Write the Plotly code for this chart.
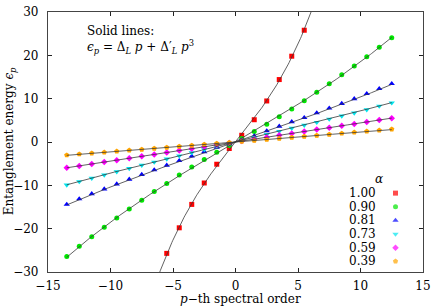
import numpy as np
import plotly.graph_objects as go

# ---------------- data ----------------
p_order = [-13.5, -12.5, -11.5, -10.5, -9.5, -8.5, -7.5, -6.5, -5.5, -4.5, -3.5,
           -2.5, -1.5, -0.5, 0.5, 1.5, 2.5, 3.5, 4.5, 5.5, 6.5, 7.5, 8.5, 9.5,
           10.5, 11.5, 12.5]
p_order_a100 = [-5.5, -4.5, -3.5, -2.5, -1.5, -0.5, 0.5, 1.5, 2.5, 3.5, 4.5, 5.5]

alpha_labels = ["1.00", "0.90", "0.81", "0.73", "0.59", "0.39"]

eps_a100 = [-25.7, -19.8, -14.4, -9.46, -5.13, -1.50, 1.55, 5.14, 9.47, 14.41, 19.8, 25.79]
eps_a090 = [-26.40, -24.05, -21.85, -19.65, -17.55, -15.45, -13.45, -11.45, -9.55,
            -7.60, -5.78, -4.05, -2.38, -0.80, 0.82, 2.42, 4.10, 5.80, 7.62, 9.53,
            11.48, 13.46, 15.52, 17.56, 19.66, 21.88, 24.07]
eps_a081 = [-14.40, -13.15, -11.95, -10.85, -9.72, -8.62, -7.50, -6.46, -5.38, -4.32,
            -3.28, -2.25, -1.22, -0.42, 0.42, 1.40, 2.55, 3.62, 4.66, 5.62, 6.71,
            7.80, 8.87, 9.98, 11.15, 12.30, 13.45]
eps_a073 = [-9.90, -9.12, -8.36, -7.60, -6.85, -6.10, -5.36, -4.63, -3.90, -3.18,
            -2.46, -1.75, -1.04, -0.35, 0.35, 1.04, 1.75, 2.46, 3.18, 3.88, 4.55,
            5.28, 6.02, 6.72, 7.47, 8.30, 9.04]
eps_a059 = [-5.95, -5.52, -5.08, -4.64, -4.19, -3.75, -3.31, -2.87, -2.42, -1.98,
            -1.54, -1.10, -0.66, -0.22, 0.22, 0.66, 1.10, 1.54, 1.98, 2.42, 2.86,
            3.30, 3.74, 4.18, 4.62, 5.06, 5.50]
eps_a039 = [-3.03, -2.80, -2.58, -2.37, -2.15, -1.93, -1.71, -1.48, -1.25, -1.02,
            -0.79, -0.56, -0.34, -0.11, 0.11, 0.35, 0.58, 0.81, 1.05, 1.28, 1.52,
            1.75, 1.99, 2.23, 2.47, 2.71, 2.95]

x_ticks = [-15, -10, -5, 0, 5, 10, 15]
y_ticks = [-30, -20, -10, 0, 10, 20, 30]

# ---------------- styles ----------------
colors = ["#ff0000", "#00e600", "#0000ff", "#00e5ee", "#ff00ff", "#ffa500"]
symbols = ["square", "circle", "triangle-up", "triangle-down", "diamond", "pentagon"]
msizes = [5, 5, 5.5, 5.5, 5, 5.5]

series = [
    (p_order_a100, eps_a100),
    (p_order, eps_a090),
    (p_order, eps_a081),
    (p_order, eps_a073),
    (p_order, eps_a059),
    (p_order, eps_a039),
]

FONT = "DejaVu Serif"


def fit_odd_cubic(p, e):
    """least-squares fit of e = d*p + d3*p^3 (the chart's solid lines)"""
    p = np.asarray(p, float)
    e = np.asarray(e, float)
    A = np.column_stack([p, p ** 3])
    coef, *_ = np.linalg.lstsq(A, e, rcond=None)
    return coef


fig = go.Figure()

# markers first
for (p, e), lab, c, s, ms in zip(series, alpha_labels, colors, symbols, msizes):
    fig.add_trace(go.Scatter(x=p, y=e, mode="markers", name=lab,
                             marker=dict(color=c, symbol=s, size=ms, line=dict(width=0)),
                             showlegend=False))

# fitted solid lines on top
p_grid = np.linspace(min(p_order), max(p_order), 400)
for (p, e) in series:
    d1, d3 = fit_odd_cubic(p, e)
    fig.add_trace(go.Scatter(x=p_grid, y=d1 * p_grid + d3 * p_grid ** 3, mode="lines",
                             line=dict(color="#3a3a3a", width=0.8),
                             showlegend=False, hoverinfo="skip"))

# ---------------- custom legend (text left, symbol right) ----------------
L, R, T, B = 48, 6, 5, 35
W, H = 436, 307
pw, ph = W - L - R, H - T - B


def px_x(x):
    return (x - L) / pw


def px_y(y):
    return 1 - (y - T) / ph


row_y = [px_y(191 + 14 * i) for i in range(len(alpha_labels))]
fig.add_trace(go.Scatter(x=[px_x(402)] * len(alpha_labels), y=row_y, mode="markers",
                         marker=dict(color=colors, symbol=symbols, size=msizes, line=dict(width=0)),
                         xaxis="x2", yaxis="y2", showlegend=False, hoverinfo="skip"))

annotations = []
for lab, yy in zip(alpha_labels, row_y):
    annotations.append(dict(x=px_x(384), y=yy, xref="paper", yref="paper", text=lab,
                            showarrow=False, xanchor="right", yanchor="middle",
                            font=dict(family=FONT, size=12)))
annotations.append(dict(x=px_x(385), y=px_y(177), xref="paper", yref="paper", text="<i>α</i>",
                        showarrow=False, xanchor="center", yanchor="middle",
                        font=dict(family=FONT, size=12)))
# formula box
annotations.append(dict(x=px_x(86), y=px_y(25), xref="paper", yref="paper", text="Solid lines:",
                        showarrow=False, xanchor="left", yanchor="middle",
                        font=dict(family=FONT, size=12)))
annotations.append(dict(x=px_x(86), y=px_y(41), xref="paper", yref="paper",
                        text="<i>ϵ</i><sub><i>p</i></sub> = Δ<sub><i>L</i></sub> <i>p</i> + Δ′<sub><i>L</i></sub> <i>p</i><sup>3</sup>",
                        showarrow=False, xanchor="left", yanchor="middle",
                        font=dict(family=FONT, size=12)))
# axis titles
annotations.append(dict(x=px_x(244), y=px_y(299.5), xref="paper", yref="paper",
                        text="<i>p</i>−th spectral order", showarrow=False,
                        xanchor="center", yanchor="middle", font=dict(family=FONT, size=12)))
annotations.append(dict(x=px_x(9), y=px_y(138), xref="paper", yref="paper",
                        text="Entanglement energy <i>ϵ</i><sub><i>p</i></sub>", showarrow=False,
                        textangle=-90, xanchor="center", yanchor="middle",
                        font=dict(family=FONT, size=12)))

axis_common = dict(showgrid=False, zeroline=False, showline=True, mirror="ticks",
                   linecolor="#444444", linewidth=1.2, ticks="inside", ticklen=4,
                   tickwidth=1, tickcolor="#222222", ticklabeloverflow="allow",
                   tickfont=dict(family=FONT, size=12, color="black"))

fig.update_layout(
    width=W, height=H,
    margin=dict(l=L, r=R, t=T, b=B),
    paper_bgcolor="white", plot_bgcolor="white",
    showlegend=False,
    font=dict(family=FONT, size=12, color="black"),
    xaxis=dict(range=[-15, 15], tickvals=x_ticks, ticklabelstandoff=2, **axis_common),
    yaxis=dict(range=[-30, 30], tickvals=y_ticks, ticklabelstandoff=6, **axis_common),
    xaxis2=dict(overlaying="x", anchor="y2", range=[0, 1], visible=False, fixedrange=True),
    yaxis2=dict(overlaying="y", anchor="x2", range=[0, 1], visible=False, fixedrange=True),
    annotations=annotations,
)

fig.write_html("out.html", config={"displayModeBar": False},
               post_script="document.body.style.margin='0';document.body.style.overflow='hidden';")
